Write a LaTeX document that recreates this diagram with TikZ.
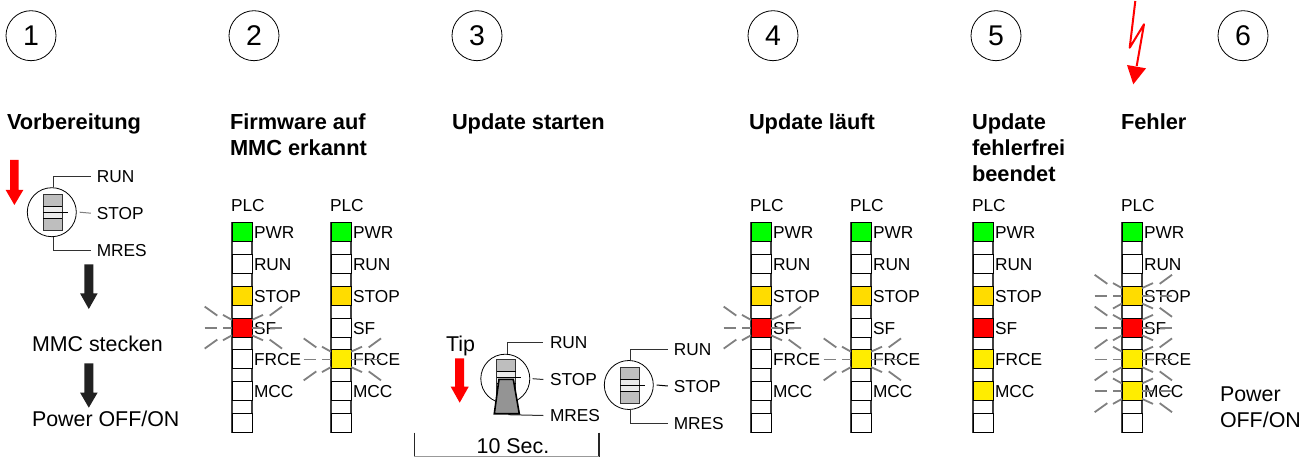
\documentclass[tikz,border=0pt]{standalone}
\usepackage{fontspec}
\setmainfont{Liberation Sans}
\definecolor{ledg}{RGB}{0,255,0}
\definecolor{leda}{RGB}{255,220,0}
\definecolor{ledy}{RGB}{255,237,0}
\definecolor{ledr}{RGB}{255,0,0}
\definecolor{sgray}{RGB}{190,190,190}
\definecolor{raygray}{RGB}{128,128,128}
\definecolor{wire}{RGB}{50,50,50}
\tikzset{
  ledbox/.style={draw=black,line width=0.9pt,minimum width=20pt,minimum height=19pt,inner sep=0pt,outer sep=0pt,anchor=north west},
  framebox/.style={draw=black!75,line width=1.1pt,minimum width=20pt,minimum height=209.6pt,inner sep=0pt,outer sep=0pt,anchor=north west},
  lab/.style={inner sep=0pt,outer sep=0pt,anchor=base west,font=\fontsize{17.3}{17.3}\selectfont},
  txt/.style={inner sep=0pt,outer sep=0pt,anchor=base west,font=\fontsize{21.4}{21.4}\selectfont},
  head/.style={inner sep=0pt,outer sep=0pt,anchor=base west,font=\fontsize{21.8}{21.8}\selectfont\bfseries},
  num/.style={draw=black,line width=0.8pt,circle,minimum size=50pt,inner sep=0pt,font=\fontsize{28.5}{28.5}\selectfont},
  ray/.style={draw=raygray,line width=1.8pt},
  wireline/.style={draw=wire,line width=1pt},
  swring/.style={draw=black,line width=0.8pt,circle,minimum size=49pt,inner sep=0pt},
  redarrow/.style={fill=ledr,draw=none},
  darkarrow/.style={fill=black!87,draw=none}
}
\newcommand{\plcstack}[5]{%
  \node[lab] (#1-title) at (#2-1,211.7) {PLC};
  \node[framebox] (#1-frame) at (#2,222.7) {};
  \foreach \ledlab/\ledcol/\ledy [count=\i] in {PWR/ledg/222.7,RUN/white/254.5,STOP/leda/286.3,SF/#3/318.1,FRCE/#4/349.9,MCC/#5/381.7,/white/413.5}{
    \node[ledbox,fill=\ledcol] (#1-\i) at (#2,\ledy) {};
    \node[lab] (#1-\i-lab) at (#2+22,\ledy+16) {\ledlab};
  }
}
% horizontals and inner pieces of all six rays
\newcommand{\blinkcore}[1]{%
  \draw[ray] ([shift={(-27.3,0)}]#1.west) -- ([shift={(-14.7,0)}]#1.west);
  \draw[ray] ([shift={(-9,0)}]#1.west) -- (#1.west);
  \draw[ray] (#1.east) -- ([shift={(11,0)}]#1.east);
  \draw[ray] ([shift={(17.7,0)}]#1.east) -- ([shift={(30,0)}]#1.east);
  \draw[ray] ([shift={(-9,-12.7)}]#1.west) -- ([shift={(0,-7.7)}]#1.west);
  \draw[ray] ([shift={(-9,12.7)}]#1.west) -- ([shift={(0,7.7)}]#1.west);
  \draw[ray] ([shift={(11,-12.7)}]#1.east) -- ([shift={(0,-7.7)}]#1.east);
  \draw[ray] ([shift={(11,12.7)}]#1.east) -- ([shift={(0,7.7)}]#1.east);
}
\newcommand{\rayUL}[1]{\draw[ray] ([shift={(-27.3,-21)}]#1.west) -- ([shift={(-14.7,-12)}]#1.west);}
\newcommand{\rayLL}[1]{\draw[ray] ([shift={(-27.3,21)}]#1.west) -- ([shift={(-14.7,12)}]#1.west);}
\newcommand{\rayUR}[1]{\draw[ray] ([shift={(30,-21)}]#1.east) -- ([shift={(17.7,-12)}]#1.east);}
\newcommand{\rayLR}[1]{\draw[ray] ([shift={(30,21)}]#1.east) -- ([shift={(17.7,12)}]#1.east);}
\newcommand{\blink}[1]{\blinkcore{#1}\rayUL{#1}\rayLL{#1}\rayUR{#1}\rayLR{#1}}
% \swbody{name}{cx}{cy}{inner cy}
\newcommand{\swbody}[4]{%
  \node[swring] (#1) at (#2,#3) {};
  \fill[sgray] (#2-8.5,#4-18) rectangle (#2+10.5,#4+18.7);
  \fill[white!92!black] (#2-8.5,#4-6) rectangle (#2+10.5,#4+6);
  \draw[black!80,line width=1pt] (#2-8.5,#4-18) rectangle (#2+10.5,#4+18.7);
  \draw[black,line width=0.8pt] (#2-8.5,#4-6) -- (#2+10.5,#4-6) (#2-8.5,#4+6) -- (#2+10.5,#4+6);
  \draw[black,line width=0.8pt] (#2-8.5,#4) -- (#2+16,#4);
}
\newcommand{\swlabels}[3]{%
  \node[lab] (#1-run) at (#2+45,#3-30) {RUN};
  \node[lab] (#1-stop) at (#2+45,#3+7) {STOP};
  \node[lab] (#1-mres) at (#2+45,#3+44) {MRES};
}
\begin{document}
\begin{tikzpicture}[x=1pt,y=-1pt]
\useasboundingbox (0,0) rectangle (1312,457);
\fill[white] (0,0) rectangle (1312,457);
% numbers
\node[num] (n1) at (31,35.7) {1};
\node[num] (n2) at (254,35.7) {2};
\node[num] (n3) at (477,35.7) {3};
\node[num] (n4) at (773,35.7) {4};
\node[num] (n5) at (996,35.7) {5};
\node[num] (n6) at (1243,35.7) {6};
% headings
\node[head] (h1) at (7,130) {Vorbereitung};
\node[head] (h2a) at (230,130) {Firmware auf};
\node[head] (h2b) at (230,156) {MMC erkannt};
\node[head] (h3) at (452,130) {Update starten};
\node[head] (h4) at (749,130) {Update läuft};
\node[head] (h5a) at (972,130) {Update};
\node[head] (h5b) at (972,156) {fehlerfrei};
\node[head] (h5c) at (972,182) {beendet};
\node[head] (h6) at (1121,130) {Fehler};
% step 1
\swbody{swa}{51.8}{212.2}{212.2}
\swlabels{swa}{51.8}{212.2}
\draw[wireline] (swa.north) ++(1.9,0) |- ([xshift=-6pt,yshift=6pt]swa-run.base west);
\draw[wireline] (swa.south) ++(1.9,0) |- ([xshift=-6pt,yshift=6pt]swa-mres.base west);
\draw[wireline,draw=raygray] ([xshift=3pt]swa.east) -- ([xshift=-6pt,yshift=6pt]swa-stop.base west);
\fill[redarrow] (10,160) -- (18.7,160) -- (18.7,190) -- (23.3,190) -- (14.4,205) -- (5.7,190) -- (10,190) -- cycle;
\fill[darkarrow] (84.3,264.3) -- (93.3,264.3) -- (93.3,293.3) -- (97.7,293.3) -- (88.8,309) -- (80,293.3) -- (84.3,293.3) -- cycle;
\fill[darkarrow] (84.3,363.3) -- (93.3,363.3) -- (93.3,392.5) -- (97.7,392.5) -- (88.8,407.7) -- (80,392.5) -- (84.3,392.5) -- cycle;
\node[txt] (mmc) at (32,351.7) {MMC stecken};
\node[txt] (pwr1) at (32,426.7) {Power OFF/ON};
% step 2
\plcstack{pa}{232}{ledr}{white}{white}
\plcstack{pb}{331}{white}{ledy}{white}
\blink{pa-4}
\blink{pb-5}
% step 3
\node[txt] (tip) at (446,351) {Tip};
\fill[redarrow] (455,358.3) -- (464,358.3) -- (464,386.7) -- (468.7,386.7) -- (459.7,402.7) -- (450.7,386.7) -- (455,386.7) -- cycle;
\swbody{swb}{505.3}{378.7}{377.7}
\node[lab] (swb-run) at (550,348.5) {RUN};
\node[lab] (swb-stop) at (550,385.5) {STOP};
\node[lab] (swb-mres) at (550,421.5) {MRES};
\draw[wireline] (swb.north) ++(2.4,0) |- ([xshift=-6.7pt,yshift=6pt]swb-run.base west);
\draw[wireline] (508.3,414.7) -- ([xshift=-6.7pt,yshift=6pt]swb-mres.base west);
\draw[wireline] ([xshift=2.5pt]swb.east) -- ([xshift=-6.7pt,yshift=6pt]swb-stop.base west);
\filldraw[fill=black!42,draw=black,line width=1.6pt,line join=miter] (499,379.3) -- (513.3,379.3) -- (519.3,413.7) -- (494.3,413.7) -- cycle;
\swbody{swc}{628.8}{385}{385}
\swlabels{swc}{628.8}{385}
\draw[wireline] (swc.north) ++(1.9,0) |- ([xshift=-6pt,yshift=6pt]swc-run.base west);
\draw[wireline] (swc.south) ++(1.9,0) |- ([xshift=-6pt,yshift=6pt]swc-mres.base west);
\draw[wireline,draw=black] ([xshift=3pt]swc.east) -- ([xshift=-6pt,yshift=6pt]swc-stop.base west);
\coordinate (tl) at (414.3,432.7);
\coordinate (tr) at (599,432.7);
\draw[black!85,line width=1.6pt] (tl) -- ++(0,24.3);
\draw[black!85,line width=1.6pt] (tr) -- ++(0,24.3);
\draw[black!40,line width=0.7pt] (414.3,456.7) -- (599,456.7);
\node[txt] (tensec) at (476.7,453) {10 Sec.};
% step 4
\plcstack{pc}{751}{ledr}{white}{white}
\plcstack{pd}{851}{white}{ledy}{white}
\blink{pc-4}
\blink{pd-5}
% step 5
\plcstack{pe}{973}{ledr}{ledy}{ledy}
% step 6
\plcstack{pf}{1122}{ledr}{ledy}{ledy}
\blinkcore{pf-3}\rayUL{pf-3}\rayUR{pf-3}\rayLR{pf-3}
\blinkcore{pf-4}\rayUL{pf-4}\rayLL{pf-4}
\blinkcore{pf-5}\rayLL{pf-5}\rayUR{pf-5}\rayLR{pf-5}
\blinkcore{pf-6}\rayLL{pf-6}\rayLR{pf-6}
\draw[ledr,line width=2pt,line join=round] (1135.3,1) -- (1129.7,47.7) -- (1144,24.3) -- (1136.7,66);
\fill[redarrow] (1127,65) -- (1146,68.3) -- (1133.3,84.3) -- cycle;
\node[txt] (pw6a) at (1220,401) {Power};
\node[txt] (pw6b) at (1220,427) {OFF/ON};
\end{tikzpicture}
\end{document}
